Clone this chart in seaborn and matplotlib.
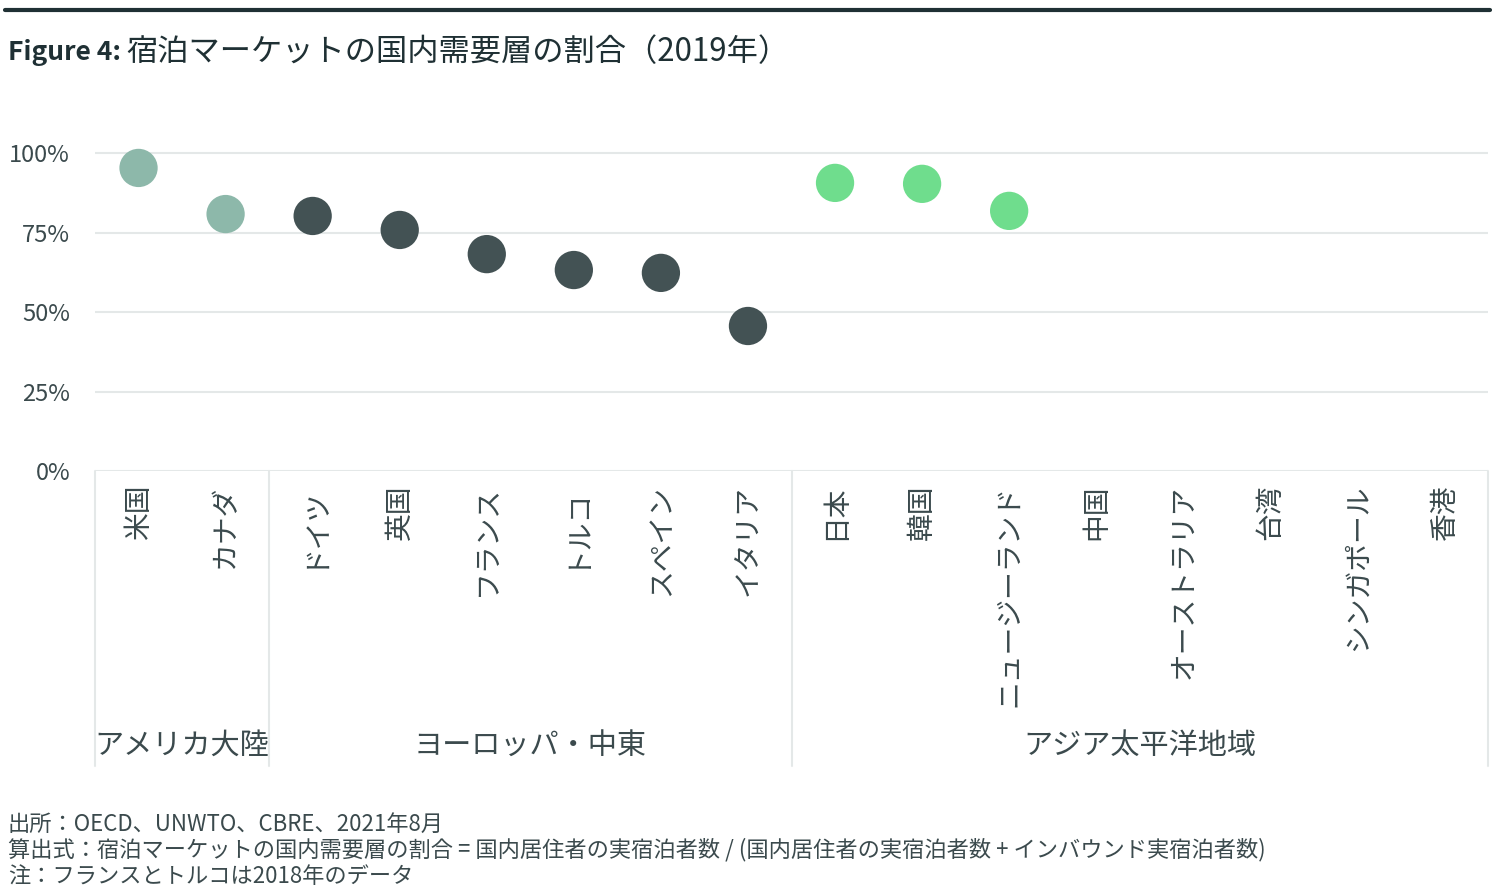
import numpy as np
import pandas as pd
import seaborn as sns
import matplotlib.pyplot as plt
from matplotlib.lines import Line2D

# data
countries = ['米国', 'カナダ', 'ドイツ', '英国', 'フランス', 'トルコ', 'スペイン', 'イタリア',
             '日本', '韓国', 'ニュージーランド', '中国', 'オーストラリア', '台湾', 'シンガポール', '香港']
regions = ['アメリカ大陸'] * 2 + ['ヨーロッパ・中東'] * 6 + ['アジア太平洋地域'] * 8
share = [0.953, 0.808, 0.802, 0.758, 0.682, 0.632, 0.623, 0.456,
         0.906, 0.903, 0.818, np.nan, np.nan, np.nan, np.nan, np.nan]
region_names = ['アメリカ大陸', 'ヨーロッパ・中東', 'アジア太平洋地域']
region_colors = ['#8db8aa', '#435254', '#6fdd8d']

df = pd.DataFrame({'country': countries, 'region': regions, 'share': share})
df['pos'] = range(len(df))

sns.set_style('white')
plt.rcParams['font.family'] = ['Noto Sans CJK JP', 'DejaVu Sans']
txt = '#3b4a4d'

fig = plt.figure(figsize=(15, 8.96), dpi=100)
W, H = 1500, 896
top_px, bot_px, left_px, right_px = 130, 471, 95, 1488
ax = fig.add_axes([left_px / W, 1 - bot_px / H, (right_px - left_px) / W, (bot_px - top_px) / H])

sns.scatterplot(data=df.dropna(), x='pos', y='share', hue='region', hue_order=region_names,
                palette=region_colors, s=760, edgecolor='none', legend=False, ax=ax, zorder=3)

ax.set_xlim(-0.5, 15.5)
ax.set_ylim(0, (bot_px - top_px) / 318)
ax.set_yticks([0, 0.25, 0.5, 0.75, 1.0])
ax.set_yticklabels(['0%', '25%', '50%', '75%', '100%'], fontsize=17, color=txt)
for y in [0, 0.25, 0.5, 0.75, 1.0]:
    ax.axhline(y, color='#e4e8e8', lw=1.5, zorder=1)
ax.set_xticks(df['pos'])
ax.set_xticklabels(df['country'], rotation=90, fontsize=20, color=txt, va='top', ha='center')
ax.tick_params(axis='x', length=0, pad=10)
ax.tick_params(axis='y', length=0, pad=18)
ax.set_xlabel('')
ax.set_ylabel('')
for sp in ax.spines.values():
    sp.set_visible(False)

# group box below the axis
box_depth = (766 - bot_px) / (bot_px - top_px)
for xv in [-0.5, 1.5, 7.5, 15.5]:
    ax.axvline(xv, ymin=-box_depth, ymax=0, color='#e4e8e8', lw=1.5, clip_on=False)
label_y = -(746 - bot_px) / (bot_px - top_px)
for name, center in zip(region_names, [0.5, 4.5, 11.5]):
    ax.text(center, label_y, name, transform=ax.get_xaxis_transform(), ha='center', va='center',
            fontsize=21, color=txt)

# title and top rule
fig.add_artist(Line2D([5 / W, 1490 / W], [1 - 10 / H, 1 - 10 / H], color='#1f3034', lw=3))
t1 = fig.text(8 / W, 1 - 53 / H, 'Figure 4:', fontsize=19, fontweight='bold', color='#1f3034',
              va='center', ha='left')
fig.canvas.draw()
bb = t1.get_window_extent()
fig.text((bb.x1 + 5) / W, 1 - 52 / H, '宿泊マーケットの国内需要層の割合（2019年）', fontsize=22.5,
         color='#1f3034', va='center', ha='left')

notes = ['出所：OECD、UNWTO、CBRE、2021年8月',
         '算出式：宿泊マーケットの国内需要層の割合 = 国内居住者の実宿泊者数 / (国内居住者の実宿泊者数 + インバウンド実宿泊者数)',
         '注：フランスとトルコは2018年のデータ']
for i, n in enumerate(notes):
    fig.text(8 / W, 1 - (824 + 26 * i) / H, n, fontsize=16, color=txt, va='center', ha='left')

fig.savefig('out.png', dpi=100)
